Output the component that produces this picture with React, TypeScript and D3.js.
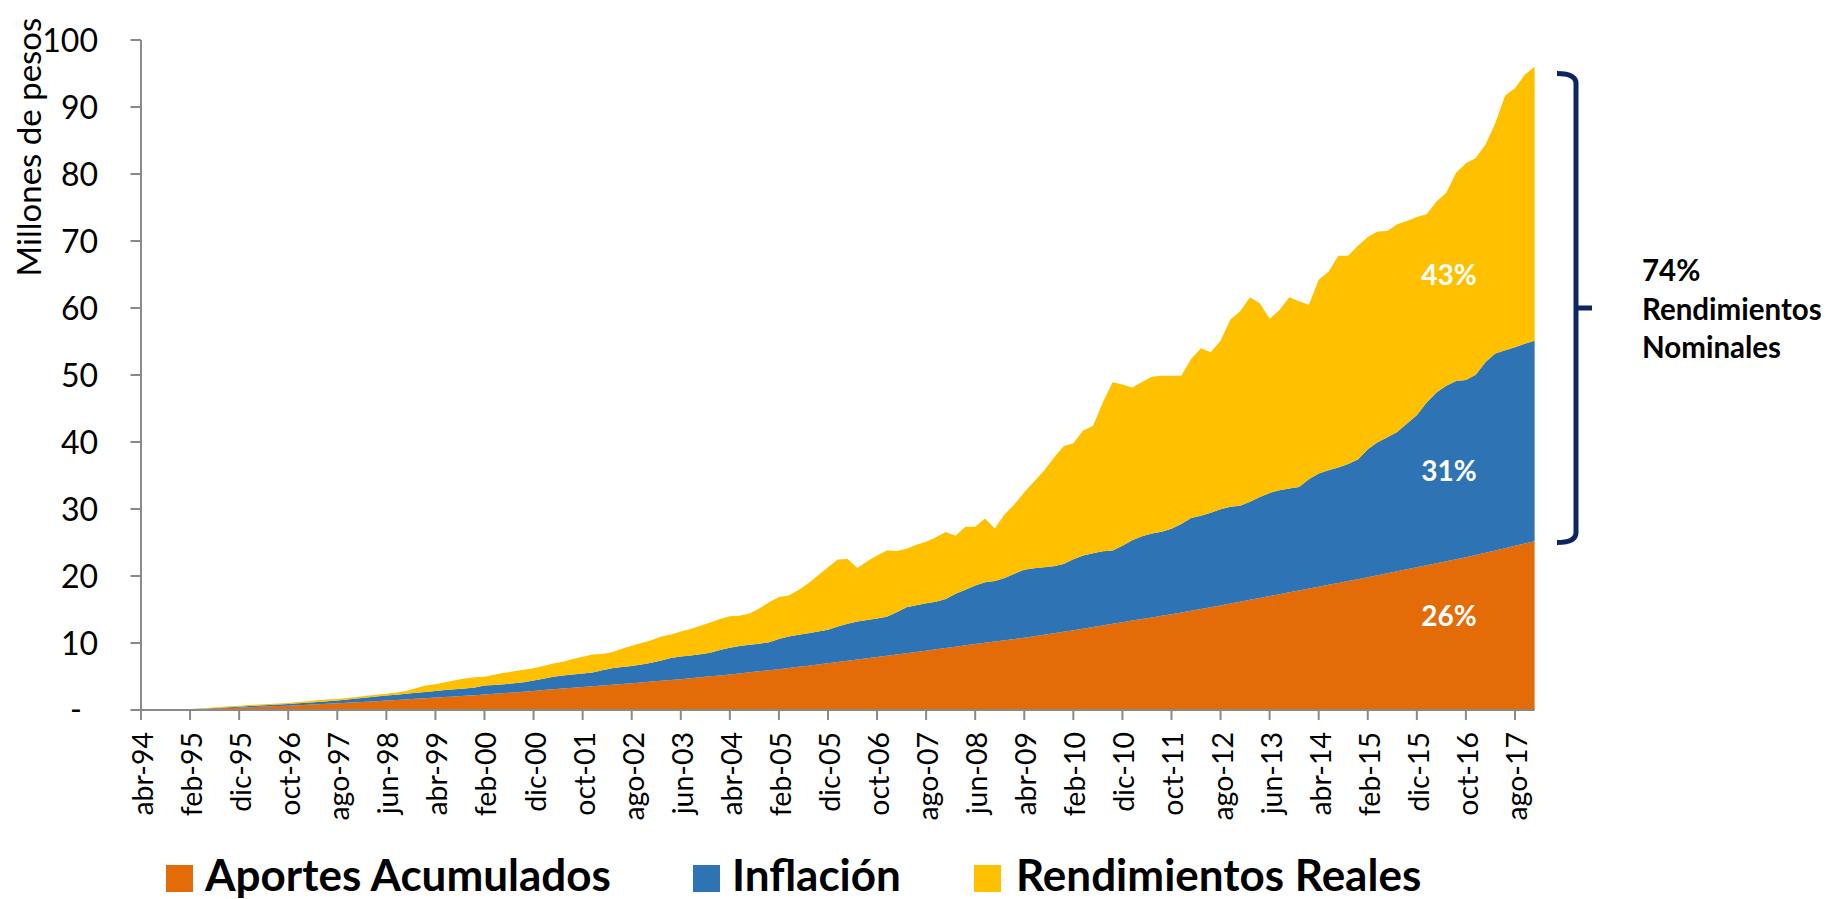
import React from 'react';
import * as d3 from 'd3';

// Etiquetas del eje X (cada 10 meses desde abr-94)
const etiquetasX = [
  'abr-94', 'feb-95', 'dic-95', 'oct-96', 'ago-97', 'jun-98', 'abr-99', 'feb-00',
  'dic-00', 'oct-01', 'ago-02', 'jun-03', 'abr-04', 'feb-05', 'dic-05', 'oct-06',
  'ago-07', 'jun-08', 'abr-09', 'feb-10', 'dic-10', 'oct-11', 'ago-12', 'jun-13',
  'abr-14', 'feb-15', 'dic-15', 'oct-16', 'ago-17',
];
const mesesEtiquetas = [
  0, 10, 20, 30, 40, 50, 60, 70, 80, 90, 100, 110, 120, 130, 140, 150, 160, 170,
  180, 190, 200, 210, 220, 230, 240, 250, 260, 270, 280,
];
const ticksY = [0, 10, 20, 30, 40, 50, 60, 70, 80, 90, 100];

// Meses (índice desde abr-94), datos bimestrales hasta dic-17
const mesesDatos = d3.range(0, 285, 2);

// Millones de pesos
const aportes = [
  0.00, 0.02, 0.04, 0.07, 0.09, 0.12, 0.16, 0.21, 0.25, 0.30,
  0.35, 0.41, 0.47, 0.53, 0.59, 0.65, 0.72, 0.79, 0.86, 0.93,
  1.00, 1.08, 1.16, 1.24, 1.32, 1.40, 1.49, 1.58, 1.67, 1.76,
  1.85, 1.94, 2.03, 2.12, 2.21, 2.30, 2.41, 2.52, 2.63, 2.74,
  2.85, 2.97, 3.09, 3.21, 3.33, 3.45, 3.56, 3.67, 3.78, 3.89,
  4.00, 4.12, 4.24, 4.36, 4.48, 4.60, 4.74, 4.88, 5.02, 5.16,
  5.30, 5.46, 5.62, 5.78, 5.94, 6.10, 6.27, 6.45, 6.62, 6.80,
  6.97, 7.16, 7.34, 7.53, 7.71, 7.90, 8.09, 8.28, 8.47, 8.66,
  8.85, 9.05, 9.25, 9.45, 9.65, 9.85, 10.04, 10.23, 10.42, 10.61,
  10.80, 11.02, 11.24, 11.46, 11.68, 11.90, 12.14, 12.38, 12.62, 12.86,
  13.10, 13.34, 13.58, 13.82, 14.06, 14.30, 14.56, 14.82, 15.08, 15.34,
  15.60, 15.88, 16.16, 16.44, 16.72, 17.00, 17.28, 17.56, 17.84, 18.12,
  18.40, 18.68, 18.96, 19.24, 19.52, 19.80, 20.10, 20.40, 20.70, 21.00,
  21.30, 21.60, 21.90, 22.20, 22.50, 22.80, 23.14, 23.48, 23.82, 24.16,
  24.50, 24.85, 25.20,
];
const inflacion = [
  0.00, 0.00, 0.01, 0.01, 0.02, 0.02, 0.04, 0.06, 0.10, 0.12,
  0.15, 0.17, 0.19, 0.21, 0.23, 0.25, 0.28, 0.31, 0.34, 0.37,
  0.40, 0.47, 0.54, 0.61, 0.68, 0.75, 0.79, 0.84, 0.89, 0.94,
  1.00, 1.04, 1.07, 1.10, 1.14, 1.35, 1.34, 1.33, 1.35, 1.41,
  1.55, 1.68, 1.86, 1.94, 1.97, 2.00, 2.04, 2.28, 2.47, 2.51,
  2.55, 2.68, 2.81, 3.04, 3.27, 3.40, 3.41, 3.44, 3.54, 3.79,
  4.00, 4.09, 4.13, 4.12, 4.16, 4.50, 4.71, 4.80, 4.85, 4.90,
  5.01, 5.29, 5.54, 5.67, 5.74, 5.75, 5.84, 6.32, 6.85, 6.99,
  7.07, 7.10, 7.30, 7.90, 8.30, 8.75, 9.01, 9.02, 9.28, 9.74,
  10.15, 10.13, 10.06, 9.99, 10.12, 10.60, 10.91, 11.02, 11.08, 10.94,
  11.40, 12.01, 12.37, 12.53, 12.54, 12.75, 13.19, 13.83, 13.90, 14.11,
  14.35, 14.47, 14.34, 14.66, 15.08, 15.40, 15.52, 15.49, 15.46, 16.33,
  16.90, 17.12, 17.24, 17.46, 17.88, 19.10, 19.85, 20.30, 20.80, 21.75,
  22.70, 24.30, 25.50, 26.20, 26.60, 26.45, 26.91, 28.47, 29.38, 29.54,
  29.65, 29.80, 29.90,
];
const rendimientosReales = [
  0.00, 0.00, 0.00, 0.01, 0.01, 0.01, 0.04, 0.07, 0.09, 0.13,
  0.15, 0.15, 0.15, 0.15, 0.15, 0.15, 0.18, 0.21, 0.24, 0.25,
  0.25, 0.23, 0.25, 0.27, 0.28, 0.29, 0.34, 0.43, 0.69, 0.95,
  0.98, 1.17, 1.35, 1.48, 1.55, 1.33, 1.50, 1.70, 1.80, 1.85,
  1.82, 1.90, 2.00, 2.05, 2.30, 2.50, 2.70, 2.40, 2.37, 2.75,
  3.05, 3.20, 3.35, 3.58, 3.53, 3.70, 3.95, 4.24, 4.49, 4.65,
  4.70, 4.53, 4.65, 5.25, 6.00, 6.25, 6.12, 6.65, 7.43, 8.40,
  9.32, 10.00, 9.67, 8.00, 8.75, 9.40, 9.87, 9.13, 8.76, 9.00,
  9.18, 9.65, 10.00, 8.65, 9.40, 8.75, 9.55, 7.85, 9.50, 10.35,
  11.55, 12.95, 14.40, 16.15, 17.55, 17.30, 18.65, 19.00, 22.20, 25.10,
  24.10, 22.80, 23.00, 23.40, 23.30, 22.85, 22.15, 23.75, 25.02, 23.95,
  25.15, 27.95, 29.00, 30.50, 28.90, 26.00, 26.90, 28.55, 27.70, 26.05,
  28.90, 29.60, 31.60, 31.10, 31.90, 31.70, 31.45, 30.80, 31.00, 30.25,
  29.60, 28.10, 28.50, 28.80, 31.10, 32.35, 32.35, 32.45, 34.40, 38.00,
  38.65, 40.15, 40.90,
];

const series = [
  { key: 'aportes', nombre: 'Aportes Acumulados', color: '#E36C09' },
  { key: 'inflacion', nombre: 'Inflación', color: '#2E74B5' },
  { key: 'reales', nombre: 'Rendimientos Reales', color: '#FFC000' },
];

const participacion = [
  { texto: '26%', valor: 14 },
  { texto: '31%', valor: 35.7 },
  { texto: '43%', valor: 64.9 },
];

const FONT = "Lato, 'Open Sans', sans-serif";
const W = 1830;
const H = 899;

export default function App() {
  const x = d3.scaleLinear().domain([0, 284]).range([141, 1534.6]);
  const y = d3.scaleLinear().domain([0, 100]).range([710, 40]);

  const tabla = mesesDatos.map((m, i) => ({
    m,
    aportes: aportes[i],
    inflacion: inflacion[i],
    reales: rendimientosReales[i],
  }));
  const capas = d3.stack().keys(series.map((s) => s.key))(tabla as any);
  const area = d3
    .area<any>()
    .x((d) => x(d.data.m))
    .y0((d) => y(d[0]))
    .y1((d) => y(d[1]));

  const legendPos = [
    { sq: 166, tx: 205 },
    { sq: 693, tx: 732 },
    { sq: 974, tx: 1016 },
  ];

  const bTop = y(95);
  const bBot = y(25);
  const bMid = y(60);
  const bx = 1576;

  return (
    <div style={{ position: 'absolute', left: 0, top: 0 }}>
      <svg width={W} height={H} style={{ display: 'block', background: '#fff' }}>
        {capas.map((capa, i) => (
          <path key={series[i].key} d={area(capa as any) || ''} fill={series[i].color} />
        ))}

        {/* Eje Y */}
        <line x1={141} x2={141} y1={y(100)} y2={y(0)} stroke="#898989" strokeWidth={2} />
        {ticksY.map((t) => (
          <g key={t}>
            <line x1={130.5} x2={141} y1={y(t)} y2={y(t)} stroke="#898989" strokeWidth={2} />
            {t === 0 ? (
              <text x={76} y={y(t) + 11} textAnchor="middle" fontFamily={FONT} fontSize={32} fill="#000">
                -
              </text>
            ) : (
              <text x={98} y={y(t) + 11.5} textAnchor="end" fontFamily={FONT} fontSize={32} fill="#000">
                {t}
              </text>
            )}
          </g>
        ))}
        <text
          transform={`translate(41, 147) rotate(-90)`}
          textAnchor="middle"
          fontFamily={FONT}
          fontSize={33}
          fill="#000"
        >
          Millones de pesos
        </text>

        {/* Eje X */}
        <line x1={141} x2={1534.6} y1={y(0)} y2={y(0)} stroke="#898989" strokeWidth={2} />
        {mesesEtiquetas.map((m, i) => (
          <g key={m}>
            <line x1={x(m)} x2={x(m)} y1={y(0)} y2={y(0) + 10} stroke="#898989" strokeWidth={2} />
            <text
              transform={`translate(${x(m) + 12}, 732) rotate(-90)`}
              textAnchor="end"
              fontFamily={FONT}
              fontSize={28.5}
              fill="#000"
            >
              {etiquetasX[i]}
            </text>
          </g>
        ))}

        {/* Porcentajes */}
        {participacion.map((p) => (
          <text
            key={p.texto}
            x={1449}
            y={y(p.valor) + 10}
            textAnchor="middle"
            fontFamily={FONT}
            fontWeight="bold"
            fontSize={28}
            fill="#fff"
          >
            {p.texto}
          </text>
        ))}

        {/* Llave */}
        <path
          d={`M1557,${bTop} Q${bx},${bTop} ${bx},${bTop + 10} L${bx},${bBot - 10} Q${bx},${bBot} 1557,${bBot}`}
          fill="none"
          stroke="#0E2660"
          strokeWidth={5}
        />
        <line x1={bx} x2={1592} y1={bMid} y2={bMid} stroke="#0E2660" strokeWidth={5} />
        <text fontFamily={FONT} fontWeight="bold" fontSize={29.5} fill="#000">
          <tspan x={1642} y={281}>74%</tspan>
          <tspan x={1642} y={319.5}>Rendimientos</tspan>
          <tspan x={1642} y={358}>Nominales</tspan>
        </text>

        {/* Leyenda */}
        {series.map((s, i) => (
          <g key={s.key}>
            <rect x={legendPos[i].sq} y={865} width={27} height={27} fill={s.color} />
            <text x={legendPos[i].tx} y={891} fontFamily={FONT} fontWeight="bold" fontSize={44} fill="#000">
              {s.nombre}
            </text>
          </g>
        ))}
      </svg>
    </div>
  );
}
